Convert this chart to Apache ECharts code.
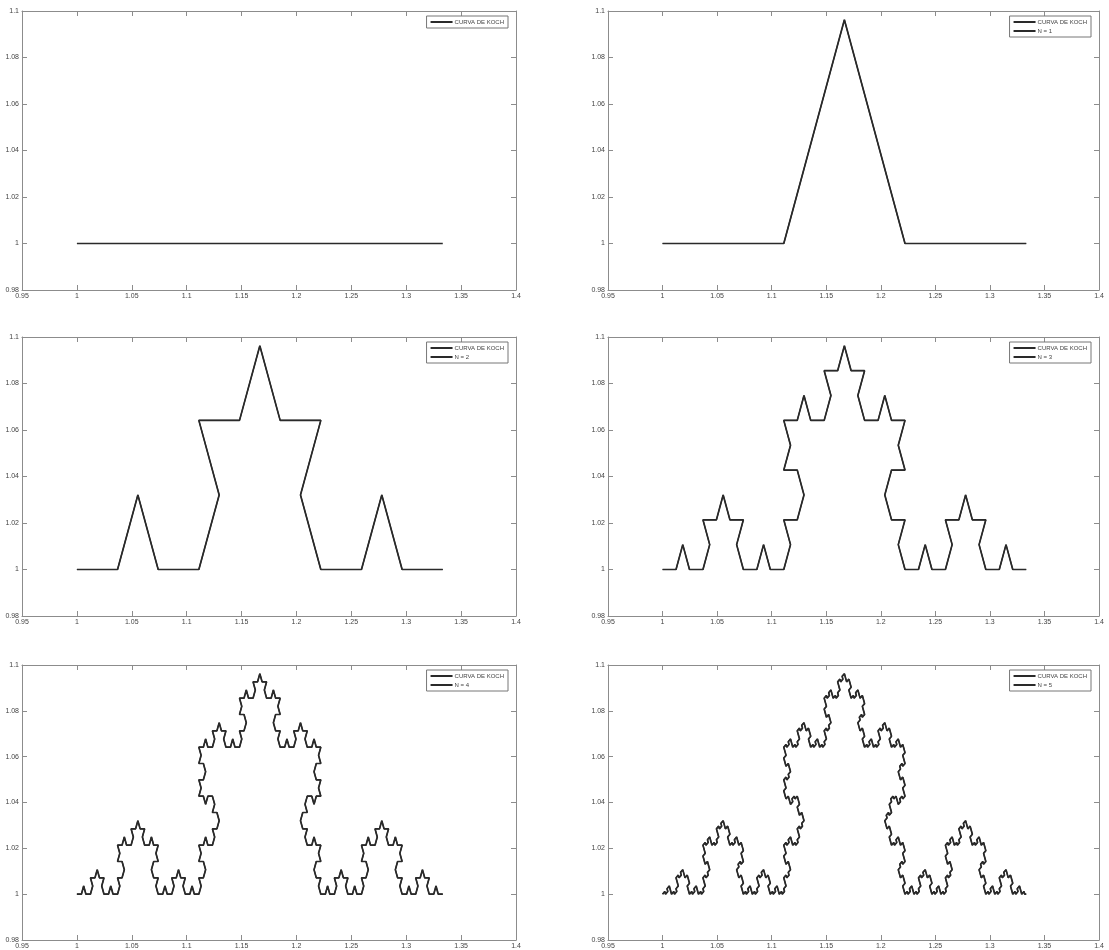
<!DOCTYPE html>
<html>
<head>
<meta charset="utf-8">
<script src="https://cdn.jsdelivr.net/npm/echarts@6/dist/echarts.min.js"></script>
<style>html,body{margin:0;padding:0;background:#fff;}#c{width:1109px;height:950px;}</style>
</head>
<body>
<div id="c"></div>
<script>
// ---- data ----
const baseStart = [1, 1];
const baseEnd = [1.3333, 1];
const levels = [0, 1, 2, 3, 4, 5];
const curveName = 'CURVA DE KOCH';
const levelNames = ['', 'N = 1', 'N = 2', 'N = 3', 'N = 4', 'N = 5'];
const xTicks = { min: 0.95, max: 1.4, step: 0.05 };
const yTicks = { min: 0.98, max: 1.1, step: 0.02 };

// Koch construction rule (each segment replaced by four, peak turned +60deg)
function koch(p, q, n, out) {
  if (n === 0) { out.push(p); return; }
  const dx = (q[0] - p[0]) / 3, dy = (q[1] - p[1]) / 3;
  const b = [p[0] + dx, p[1] + dy];
  const d = [p[0] + 2 * dx, p[1] + 2 * dy];
  const c60 = 0.5, s60 = Math.sqrt(3) / 2;
  const c = [b[0] + dx * c60 - dy * s60, b[1] + dx * s60 + dy * c60];
  koch(p, b, n - 1, out); koch(b, c, n - 1, out); koch(c, d, n - 1, out); koch(d, q, n - 1, out);
}
function curve(n) { const out = []; koch(baseStart, baseEnd, n, out); out.push(baseEnd); return out; }

// ---- layout ----
const cols = [{ left: 22, width: 494 }, { left: 608, width: 491 }];
const rows = [{ top: 11, height: 279 }, { top: 337, height: 279 }, { top: 665, height: 277 }];
const W = 1109;

const axisColor = '#8c8c8c';
const labelStyle = { color: '#444', fontSize: 7, fontFamily: 'Liberation Sans, Arial, sans-serif' };
const lineColor = '#2a2a2a';

const grid = [], xAxis = [], yAxis = [], series = [], legend = [];
levels.forEach((n, i) => {
  const col = cols[i % 2], row = rows[Math.floor(i / 2)];
  grid.push({ left: col.left, top: row.top, width: col.width, height: row.height, containLabel: false });
  const common = { gridIndex: i, type: 'value', splitLine: { show: false },
    axisLine: { show: true, onZero: false, lineStyle: { color: axisColor, width: 1 } },
    axisTick: { show: true, inside: true, length: 5, lineStyle: { color: axisColor } } };
  xAxis.push(Object.assign({}, common, { position: 'bottom', min: xTicks.min, max: xTicks.max, interval: xTicks.step,
    axisLabel: Object.assign({ show: true, margin: 3, showMinLabel: true, showMaxLabel: true }, labelStyle) }));
  xAxis.push(Object.assign({}, common, { position: 'top', min: xTicks.min, max: xTicks.max, interval: xTicks.step,
    axisLabel: { show: false } }));
  yAxis.push(Object.assign({}, common, { position: 'left', min: yTicks.min, max: yTicks.max, interval: yTicks.step,
    axisLabel: Object.assign({ show: true, margin: 3, showMinLabel: true, showMaxLabel: true }, labelStyle) }));
  yAxis.push(Object.assign({}, common, { position: 'right', min: yTicks.min, max: yTicks.max, interval: yTicks.step,
    axisLabel: { show: false } }));
  const pts = curve(n);
  const names = [curveName];
  series.push({ type: 'line', name: curveName, xAxisIndex: 2 * i, yAxisIndex: 2 * i, data: pts,
    showSymbol: false, symbol: 'none', lineStyle: { color: lineColor, width: 1.7 }, itemStyle: { color: lineColor }, animation: false, silent: true });
  if (n > 0) {
    series.push({ type: 'line', name: levelNames[n], xAxisIndex: 2 * i, yAxisIndex: 2 * i, data: pts,
      showSymbol: false, symbol: 'none', lineStyle: { color: lineColor, width: 1.2 }, itemStyle: { color: lineColor }, animation: false, silent: true });
    names.push(levelNames[n]);
  }
  legend.push({ data: names, orient: 'vertical', right: W - (col.left + col.width) + 8, top: row.top + 5,
    backgroundColor: '#fff', borderColor: '#777', borderWidth: 1, borderRadius: 0, padding: [3, 4, 3, 4],
    itemGap: 3, itemWidth: 22, itemHeight: 2, icon: 'rect', selectedMode: false,
    textStyle: { color: '#444', fontSize: 6, fontFamily: 'Liberation Sans, Arial, sans-serif', padding: [0, 0, 0, -3] } });
});

const chart = echarts.init(document.getElementById('c'), null, { renderer: 'canvas' });
chart.setOption({ animation: false, backgroundColor: '#fff', grid, xAxis, yAxis, series, legend });
</script>
</body>
</html>
